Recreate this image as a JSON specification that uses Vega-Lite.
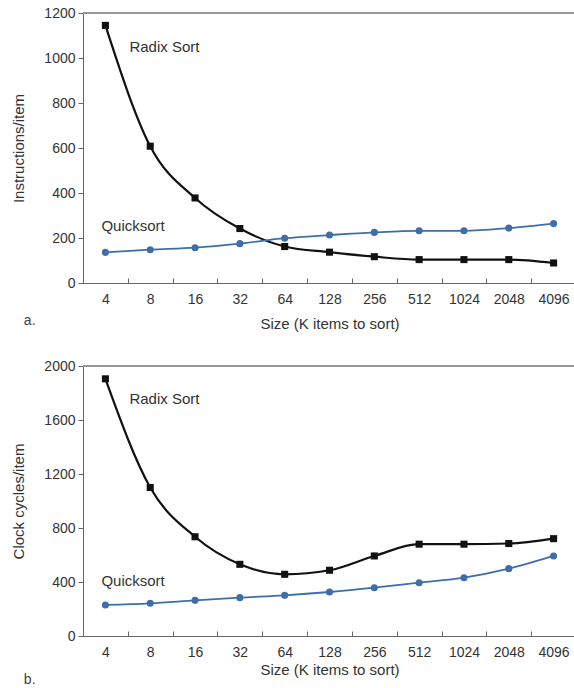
{
  "$schema": "https://vega.github.io/schema/vega-lite/v6.json",
  "padding": {"left": 11, "top": 6, "right": 0, "bottom": 0},
  "spacing": 28,
  "config": {
    "view": {"stroke": null},
    "font": "Liberation Sans",
    "axis": {
      "labelFont": "Liberation Sans", "titleFont": "Liberation Sans",
      "labelFontSize": 14, "titleFontSize": 15, "titleFontWeight": "normal",
      "labelColor": "#333", "titleColor": "#333",
      "domainColor": "#666", "tickColor": "#666", "grid": false
    }
  },
  "datasets": {
    "a": [
      {"size": "4", "algo": "Radix Sort", "value": 1145},
      {"size": "8", "algo": "Radix Sort", "value": 608},
      {"size": "16", "algo": "Radix Sort", "value": 378},
      {"size": "32", "algo": "Radix Sort", "value": 242},
      {"size": "64", "algo": "Radix Sort", "value": 162},
      {"size": "128", "algo": "Radix Sort", "value": 137},
      {"size": "256", "algo": "Radix Sort", "value": 117},
      {"size": "512", "algo": "Radix Sort", "value": 104},
      {"size": "1024", "algo": "Radix Sort", "value": 104},
      {"size": "2048", "algo": "Radix Sort", "value": 104},
      {"size": "4096", "algo": "Radix Sort", "value": 89},
      {"size": "4", "algo": "Quicksort", "value": 136},
      {"size": "8", "algo": "Quicksort", "value": 148},
      {"size": "16", "algo": "Quicksort", "value": 157},
      {"size": "32", "algo": "Quicksort", "value": 175},
      {"size": "64", "algo": "Quicksort", "value": 199},
      {"size": "128", "algo": "Quicksort", "value": 213},
      {"size": "256", "algo": "Quicksort", "value": 225},
      {"size": "512", "algo": "Quicksort", "value": 232},
      {"size": "1024", "algo": "Quicksort", "value": 232},
      {"size": "2048", "algo": "Quicksort", "value": 244},
      {"size": "4096", "algo": "Quicksort", "value": 264}
    ],
    "b": [
      {"size": "4", "algo": "Radix Sort", "value": 1905},
      {"size": "8", "algo": "Radix Sort", "value": 1100},
      {"size": "16", "algo": "Radix Sort", "value": 735},
      {"size": "32", "algo": "Radix Sort", "value": 531},
      {"size": "64", "algo": "Radix Sort", "value": 457},
      {"size": "128", "algo": "Radix Sort", "value": 487},
      {"size": "256", "algo": "Radix Sort", "value": 593},
      {"size": "512", "algo": "Radix Sort", "value": 680},
      {"size": "1024", "algo": "Radix Sort", "value": 680},
      {"size": "2048", "algo": "Radix Sort", "value": 685},
      {"size": "4096", "algo": "Radix Sort", "value": 721},
      {"size": "4", "algo": "Quicksort", "value": 230},
      {"size": "8", "algo": "Quicksort", "value": 242},
      {"size": "16", "algo": "Quicksort", "value": 264},
      {"size": "32", "algo": "Quicksort", "value": 284},
      {"size": "64", "algo": "Quicksort", "value": 301},
      {"size": "128", "algo": "Quicksort", "value": 326},
      {"size": "256", "algo": "Quicksort", "value": 358},
      {"size": "512", "algo": "Quicksort", "value": 395},
      {"size": "1024", "algo": "Quicksort", "value": 432},
      {"size": "2048", "algo": "Quicksort", "value": 499},
      {"size": "4096", "algo": "Quicksort", "value": 593}
    ]
  },
  "vconcat": [
    {
      "width": 493, "height": 270,
      "title": {"text": "a.", "orient": "bottom", "anchor": "start", "frame": "bounds", "dx": 12, "dy": -21, "fontSize": 14, "fontWeight": "normal", "color": "#444", "font": "Liberation Sans"},
      "data": {"name": "a"},
      "encoding": {
        "x": {"field": "size", "type": "ordinal", "sort": ["4","8","16","32","64","128","256","512","1024","2048","4096"],
              "scale": {"type": "band", "paddingInner": 0, "paddingOuter": 0},
              "axis": {"title": "Size (K items to sort)", "labelAngle": 0, "tickBand": "extent", "tickSize": -5, "labelPadding": 14, "titlePadding": 10}},
        "y": {"field": "value", "type": "quantitative", "scale": {"domain": [0, 1200], "nice": false},
              "axis": {"title": "Instructions/item", "values": [0,200,400,600,800,1000,1200], "format": "d", "tickSize": 5, "labelPadding": 3, "titlePadding": 17}}
      },
      "layer": [
        {"mark": {"type": "rule", "color": "#999", "strokeWidth": 1.5}, "encoding": {"x": null, "y": {"datum": 1200}}},
        {"mark": {"type": "line", "interpolate": "monotone"},
         "encoding": {
           "color": {"field": "algo", "type": "nominal", "scale": {"domain": ["Radix Sort", "Quicksort"], "range": ["#111111", "#3d6eaa"]}, "legend": null},
           "strokeWidth": {"field": "algo", "type": "nominal", "scale": {"domain": ["Radix Sort", "Quicksort"], "range": [2.2, 1.8]}, "legend": null}
         }},
        {"mark": {"type": "point", "filled": true, "opacity": 1},
         "encoding": {
           "color": {"field": "algo", "type": "nominal", "legend": null},
           "shape": {"field": "algo", "type": "nominal", "scale": {"domain": ["Radix Sort", "Quicksort"], "range": ["square", "circle"]}, "legend": null},
           "size": {"value": 50}
         }},
        {"transform": [{"filter": "datum.size == '4' && datum.algo == 'Radix Sort'"}],
         "mark": {"type": "text", "align": "left", "baseline": "middle", "dx": 24, "fontSize": 15, "color": "#333", "font": "Liberation Sans"},
         "encoding": {"x": {"field": "size", "type": "ordinal"}, "y": {"datum": 1048}, "text": {"field": "algo"}}},
        {"transform": [{"filter": "datum.size == '4' && datum.algo == 'Quicksort'"}],
         "mark": {"type": "text", "align": "left", "baseline": "middle", "dx": -4, "fontSize": 15, "color": "#333", "font": "Liberation Sans"},
         "encoding": {"x": {"field": "size", "type": "ordinal"}, "y": {"datum": 254}, "text": {"field": "algo"}}}
      ]
    },
    {
      "width": 493, "height": 270,
      "title": {"text": "b.", "orient": "bottom", "anchor": "start", "frame": "bounds", "dx": 12, "dy": -8, "fontSize": 14, "fontWeight": "normal", "color": "#444", "font": "Liberation Sans"},
      "data": {"name": "b"},
      "encoding": {
        "x": {"field": "size", "type": "ordinal", "sort": ["4","8","16","32","64","128","256","512","1024","2048","4096"],
              "scale": {"type": "band", "paddingInner": 0, "paddingOuter": 0},
              "axis": {"title": "Size (K items to sort)", "labelAngle": 0, "tickBand": "extent", "tickSize": -5, "labelPadding": 14, "titlePadding": 3}},
        "y": {"field": "value", "type": "quantitative", "scale": {"domain": [0, 2000], "nice": false},
              "axis": {"title": "Clock cycles/item", "values": [0,400,800,1200,1600,2000], "format": "d", "tickSize": 5, "labelPadding": 3, "titlePadding": 17}}
      },
      "layer": [
        {"mark": {"type": "rule", "color": "#999", "strokeWidth": 1.5}, "encoding": {"x": null, "y": {"datum": 2000}}},
        {"mark": {"type": "line", "interpolate": "monotone"},
         "encoding": {
           "color": {"field": "algo", "type": "nominal", "scale": {"domain": ["Radix Sort", "Quicksort"], "range": ["#111111", "#3d6eaa"]}, "legend": null},
           "strokeWidth": {"field": "algo", "type": "nominal", "scale": {"domain": ["Radix Sort", "Quicksort"], "range": [2.2, 1.8]}, "legend": null}
         }},
        {"mark": {"type": "point", "filled": true, "opacity": 1},
         "encoding": {
           "color": {"field": "algo", "type": "nominal", "legend": null},
           "shape": {"field": "algo", "type": "nominal", "scale": {"domain": ["Radix Sort", "Quicksort"], "range": ["square", "circle"]}, "legend": null},
           "size": {"value": 50}
         }},
        {"transform": [{"filter": "datum.size == '4' && datum.algo == 'Radix Sort'"}],
         "mark": {"type": "text", "align": "left", "baseline": "middle", "dx": 24, "fontSize": 15, "color": "#333", "font": "Liberation Sans"},
         "encoding": {"x": {"field": "size", "type": "ordinal"}, "y": {"datum": 1755}, "text": {"field": "algo"}}},
        {"transform": [{"filter": "datum.size == '4' && datum.algo == 'Quicksort'"}],
         "mark": {"type": "text", "align": "left", "baseline": "middle", "dx": -4, "fontSize": 15, "color": "#333", "font": "Liberation Sans"},
         "encoding": {"x": {"field": "size", "type": "ordinal"}, "y": {"datum": 407}, "text": {"field": "algo"}}}
      ]
    }
  ]
}
